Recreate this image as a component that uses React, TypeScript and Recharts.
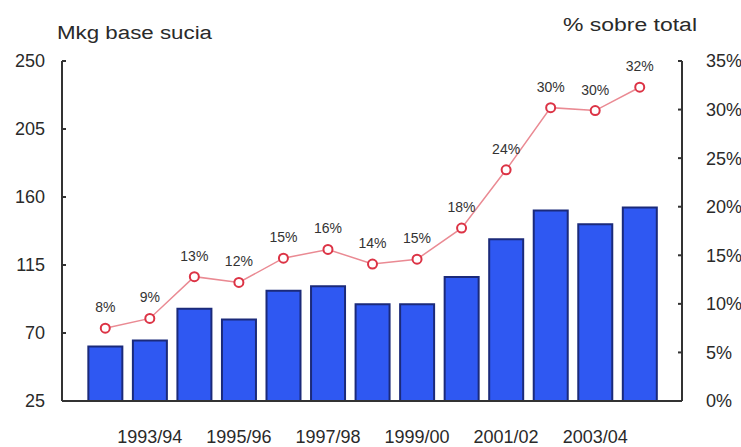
import { ComposedChart, Bar, Line, XAxis, YAxis, LabelList } from "recharts";

// campañas y valores
const campaigns = [
  "1992/93", "1993/94", "1994/95", "1995/96", "1996/97", "1997/98", "1998/99",
  "1999/00", "2000/01", "2001/02", "2002/03", "2003/04", "2004/05",
];
const shownLabels = ["1993/94", "1995/96", "1997/98", "1999/00", "2001/02", "2003/04"];
const mkgBaseSucia = [61, 65, 86, 79, 98, 101, 89, 89, 107, 132, 151, 142, 153];
const pctSobreTotal = [7.5, 8.5, 12.8, 12.2, 14.7, 15.6, 14.1, 14.6, 17.8, 23.8, 30.2, 29.9, 32.3];
const leftTicks = [25, 70, 115, 160, 205, 250];
const rightTicks = [0, 5, 10, 15, 20, 25, 30, 35];

const data = campaigns.map((c, i) => ({ name: c, mkg: mkgBaseSucia[i], pct: pctSobreTotal[i] }));

const font = "'Liberation Sans', Arial, sans-serif";
const axisColor = "#333";
const textColor = "#2a2a2a";
const tickStyle = { fontSize: 18, fill: textColor, fontFamily: font };

export default function App() {
  return (
    <div style={{ position: "absolute", left: 0, top: 0, width: 741, height: 447, background: "#fff" }}>
      {/* titulos de los ejes, estirados a lo ancho como en el original */}
      <svg width={741} height={50} style={{ position: "absolute", left: 0, top: 0 }}>
        <text x={57} y={39} fontSize={18} fill={textColor} fontFamily={font} textLength={155} lengthAdjust="spacingAndGlyphs">
          Mkg base sucia
        </text>
        <text x={563} y={31} fontSize={18} fill={textColor} fontFamily={font} textLength={134} lengthAdjust="spacingAndGlyphs">
          % sobre total
        </text>
      </svg>
      <ComposedChart
        width={741}
        height={447}
        data={data}
        margin={{ top: 61, right: 0, bottom: 6, left: 0 }}
        barCategoryGap="12%"
        style={{ position: "absolute", left: 0, top: 0 }}
      >
        <XAxis
          dataKey="name"
          interval={0}
          padding={{ left: 21, right: 20 }}
          tickLine={false}
          tickMargin={23}
          height={40}
          stroke={axisColor}
          strokeWidth={2}
          tick={tickStyle}
          tickFormatter={(v: string) => (shownLabels.includes(v) ? v : "")}
        />
        <YAxis
          yAxisId="left"
          domain={[25, 250]}
          ticks={leftTicks}
          width={62}
          tickSize={-4}
          tickMargin={21}
          stroke={axisColor}
          strokeWidth={2}
          tick={tickStyle}
        />
        <YAxis
          yAxisId="right"
          orientation="right"
          domain={[0, 35]}
          ticks={rightTicks}
          width={59}
          tickSize={-4}
          tickMargin={28}
          stroke={axisColor}
          strokeWidth={2}
          tick={tickStyle}
          tickFormatter={(v: number) => `${v}%`}
        />
        <Bar
          yAxisId="left"
          dataKey="mkg"
          fill="#2f58f2"
          stroke="#1b2a7a"
          strokeWidth={2}
          isAnimationActive={false}
        />
        <Line
          yAxisId="right"
          dataKey="pct"
          stroke="#ea8a93"
          strokeWidth={1.5}
          dot={{ r: 4.5, stroke: "#dc3345", strokeWidth: 2, fill: "#fff" }}
          isAnimationActive={false}
        >
          <LabelList
            dataKey="pct"
            position="top"
            offset={16}
            formatter={(v: number) => `${Math.round(v)}%`}
            style={{ fontSize: 14, fill: "#333", fontFamily: font }}
          />
        </Line>
      </ComposedChart>
    </div>
  );
}
